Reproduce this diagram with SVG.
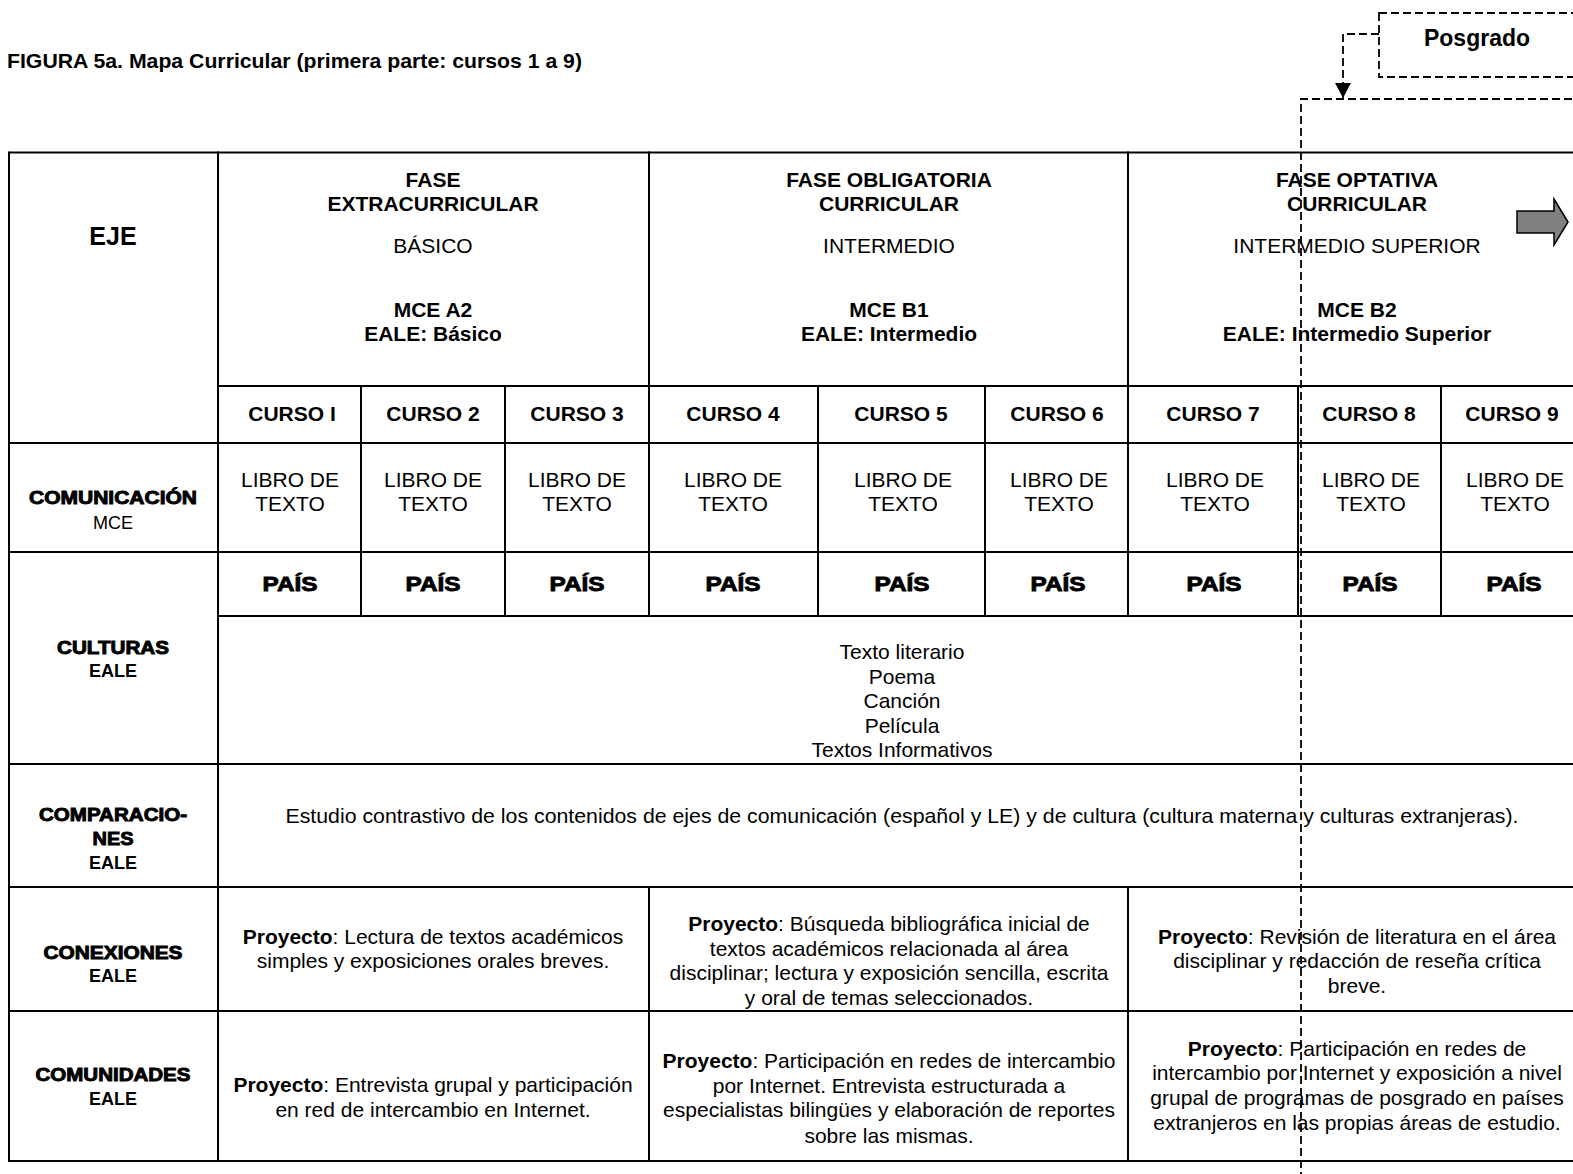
<svg xmlns="http://www.w3.org/2000/svg" width="1573" height="1174" viewBox="0 0 1573 1174">
<style>
text{font-family:"Liberation Sans",Arial,sans-serif;fill:#000;text-anchor:middle}
.t{font-size:21px}
.b{font-size:21px;font-weight:bold}
.blk{font-weight:bold;stroke:#000;stroke-width:0.9;paint-order:stroke}
.s{font-size:18px}
.sb{font-size:18px;font-weight:bold}
.grid line{stroke:#000;stroke-width:2}
.dash{fill:none;stroke:#000;stroke-width:1.8;stroke-dasharray:8 4}
</style>
<defs>
<marker id="ah" markerWidth="16" markerHeight="16" refX="15" refY="8" orient="auto" markerUnits="userSpaceOnUse" viewBox="0 0 16 16">
<polygon points="0,0 15,8 0,16" fill="#000"/>
</marker>
</defs>
<rect width="1573" height="1174" fill="#fff"/>
<text x="7" y="68" style="font-size:21px;font-weight:bold;text-anchor:start" textLength="575" lengthAdjust="spacingAndGlyphs">FIGURA 5a. Mapa Curricular (primera parte: cursos 1 a 9)</text>

<g class="grid" id="grid">
<line x1="9" y1="152.5" x2="1580" y2="152.5"/>
<line x1="218" y1="386" x2="1580" y2="386"/>
<line x1="9" y1="443" x2="1580" y2="443"/>
<line x1="9" y1="552" x2="1580" y2="552"/>
<line x1="218" y1="616" x2="1580" y2="616"/>
<line x1="9" y1="764" x2="1580" y2="764"/>
<line x1="9" y1="887" x2="1580" y2="887"/>
<line x1="9" y1="1011" x2="1580" y2="1011"/>
<line x1="9" y1="1161" x2="1580" y2="1161"/>
<line x1="9" y1="151.5" x2="9" y2="1162"/>
<line x1="218" y1="151.5" x2="218" y2="1162"/>
<line x1="649" y1="151.5" x2="649" y2="617"/>
<line x1="649" y1="886" x2="649" y2="1162"/>
<line x1="1128" y1="151.5" x2="1128" y2="617"/>
<line x1="1128" y1="886" x2="1128" y2="1162"/>
<line x1="361" y1="386" x2="361" y2="617"/>
<line x1="505" y1="386" x2="505" y2="617"/>
<line x1="818" y1="386" x2="818" y2="617"/>
<line x1="985" y1="386" x2="985" y2="617"/>
<line x1="1298" y1="386" x2="1298" y2="617"/>
<line x1="1441" y1="386" x2="1441" y2="617"/>
</g>

<g id="eje"><text x="113" y="245" style="font-size:25px;font-weight:bold">EJE</text></g>

<g id="fase1">
<text class="b" x="433" y="187">FASE</text>
<text class="b" x="433" y="211">EXTRACURRICULAR</text>
<text class="t" x="433" y="253">BÁSICO</text>
<text class="b" x="433" y="317">MCE A2</text>
<text class="b" x="433" y="341">EALE: Básico</text>
</g>
<g id="fase2">
<text class="b" x="889" y="187">FASE OBLIGATORIA</text>
<text class="b" x="889" y="211">CURRICULAR</text>
<text class="t" x="889" y="253">INTERMEDIO</text>
<text class="b" x="889" y="317">MCE B1</text>
<text class="b" x="889" y="341">EALE: Intermedio</text>
</g>
<g id="fase3">
<text class="b" x="1357" y="187">FASE OPTATIVA</text>
<text class="b" x="1357" y="211">CURRICULAR</text>
<text class="t" x="1357" y="253">INTERMEDIO SUPERIOR</text>
<text class="b" x="1357" y="317">MCE B2</text>
<text class="b" x="1357" y="341">EALE: Intermedio Superior</text>
</g>

<g id="cursos">
<text class="b" x="292" y="421">CURSO I</text>
<text class="b" x="433" y="421">CURSO 2</text>
<text class="b" x="577" y="421">CURSO 3</text>
<text class="b" x="733" y="421">CURSO 4</text>
<text class="b" x="901" y="421">CURSO 5</text>
<text class="b" x="1057" y="421">CURSO 6</text>
<text class="b" x="1213" y="421">CURSO 7</text>
<text class="b" x="1369" y="421">CURSO 8</text>
<text class="b" x="1512" y="421">CURSO 9</text>
</g>

<g id="libros">
<text class="t" x="290" y="487">LIBRO DE</text><text class="t" x="290" y="511">TEXTO</text>
<text class="t" x="433" y="487">LIBRO DE</text><text class="t" x="433" y="511">TEXTO</text>
<text class="t" x="577" y="487">LIBRO DE</text><text class="t" x="577" y="511">TEXTO</text>
<text class="t" x="733" y="487">LIBRO DE</text><text class="t" x="733" y="511">TEXTO</text>
<text class="t" x="903" y="487">LIBRO DE</text><text class="t" x="903" y="511">TEXTO</text>
<text class="t" x="1059" y="487">LIBRO DE</text><text class="t" x="1059" y="511">TEXTO</text>
<text class="t" x="1215" y="487">LIBRO DE</text><text class="t" x="1215" y="511">TEXTO</text>
<text class="t" x="1371" y="487">LIBRO DE</text><text class="t" x="1371" y="511">TEXTO</text>
<text class="t" x="1515" y="487">LIBRO DE</text><text class="t" x="1515" y="511">TEXTO</text>
</g>

<g id="paises">
<text class="blk" style="font-size:21px" x="290" y="591" textLength="55" lengthAdjust="spacingAndGlyphs">PAÍS</text>
<text class="blk" style="font-size:21px" x="433" y="591" textLength="55" lengthAdjust="spacingAndGlyphs">PAÍS</text>
<text class="blk" style="font-size:21px" x="577" y="591" textLength="55" lengthAdjust="spacingAndGlyphs">PAÍS</text>
<text class="blk" style="font-size:21px" x="733" y="591" textLength="55" lengthAdjust="spacingAndGlyphs">PAÍS</text>
<text class="blk" style="font-size:21px" x="902" y="591" textLength="55" lengthAdjust="spacingAndGlyphs">PAÍS</text>
<text class="blk" style="font-size:21px" x="1058" y="591" textLength="55" lengthAdjust="spacingAndGlyphs">PAÍS</text>
<text class="blk" style="font-size:21px" x="1214" y="591" textLength="55" lengthAdjust="spacingAndGlyphs">PAÍS</text>
<text class="blk" style="font-size:21px" x="1370" y="591" textLength="55" lengthAdjust="spacingAndGlyphs">PAÍS</text>
<text class="blk" style="font-size:21px" x="1514" y="591" textLength="55" lengthAdjust="spacingAndGlyphs">PAÍS</text>
</g>

<g id="lbl-comunicacion">
<text class="blk" style="font-size:18px" x="113" y="504" textLength="168" lengthAdjust="spacingAndGlyphs">COMUNICACIÓN</text>
<text class="s" x="113" y="529">MCE</text>
</g>
<g id="lbl-culturas">
<text class="blk" style="font-size:18px" x="113" y="654" textLength="112" lengthAdjust="spacingAndGlyphs">CULTURAS</text>
<text class="sb" x="113" y="677">EALE</text>
</g>
<g id="lbl-comparaciones">
<text class="blk" style="font-size:18px" x="113" y="821" textLength="148" lengthAdjust="spacingAndGlyphs">COMPARACIO-</text>
<text class="blk" style="font-size:18px" x="113" y="845" textLength="41" lengthAdjust="spacingAndGlyphs">NES</text>
<text class="sb" x="113" y="869">EALE</text>
</g>
<g id="lbl-conexiones">
<text class="blk" style="font-size:18px" x="113" y="959" textLength="139" lengthAdjust="spacingAndGlyphs">CONEXIONES</text>
<text class="sb" x="113" y="982">EALE</text>
</g>
<g id="lbl-comunidades">
<text class="blk" style="font-size:18px" x="113" y="1081" textLength="155" lengthAdjust="spacingAndGlyphs">COMUNIDADES</text>
<text class="sb" x="113" y="1105">EALE</text>
</g>

<g id="culturas-texto">
<text class="t" x="902" y="659">Texto literario</text>
<text class="t" x="902" y="684">Poema</text>
<text class="t" x="902" y="708">Canción</text>
<text class="t" x="902" y="733">Película</text>
<text class="t" x="902" y="757">Textos Informativos</text>
</g>

<g id="comparaciones-texto">
<text class="t" x="902" y="823" textLength="1233" lengthAdjust="spacingAndGlyphs">Estudio contrastivo de los contenidos de ejes de comunicación (español y LE) y de cultura (cultura materna y culturas extranjeras).</text>
</g>

<g id="conexiones1">
<text class="t" x="433" y="944"><tspan font-weight="bold">Proyecto</tspan>: Lectura de textos académicos</text>
<text class="t" x="433" y="968">simples y exposiciones orales breves.</text>
</g>
<g id="conexiones2">
<text class="t" x="889" y="931"><tspan font-weight="bold">Proyecto</tspan>: Búsqueda bibliográfica inicial de</text>
<text class="t" x="889" y="956">textos académicos relacionada al área</text>
<text class="t" x="889" y="980">disciplinar; lectura y exposición sencilla, escrita</text>
<text class="t" x="889" y="1005">y oral de temas seleccionados.</text>
</g>
<g id="conexiones3">
<text class="t" x="1357" y="944"><tspan font-weight="bold">Proyecto</tspan>: Revisión de literatura en el área</text>
<text class="t" x="1357" y="968">disciplinar y redacción de reseña crítica</text>
<text class="t" x="1357" y="993">breve.</text>
</g>

<g id="comunidades1">
<text class="t" x="433" y="1092"><tspan font-weight="bold">Proyecto</tspan>: Entrevista grupal y participación</text>
<text class="t" x="433" y="1117">en red de intercambio en Internet.</text>
</g>
<g id="comunidades2">
<text class="t" x="889" y="1068"><tspan font-weight="bold">Proyecto</tspan>: Participación en redes de intercambio</text>
<text class="t" x="889" y="1093">por Internet. Entrevista estructurada a</text>
<text class="t" x="889" y="1117">especialistas bilingües y elaboración de reportes</text>
<text class="t" x="889" y="1143">sobre las mismas.</text>
</g>
<g id="comunidades3">
<text class="t" x="1357" y="1056"><tspan font-weight="bold">Proyecto</tspan>: Participación en redes de</text>
<text class="t" x="1357" y="1080">intercambio por Internet y exposición a nivel</text>
<text class="t" x="1357" y="1105">grupal de programas de posgrado en países</text>
<text class="t" x="1357" y="1130">extranjeros en las propias áreas de estudio.</text>
</g>

<g id="posgrado">
<rect class="dash" x="1379" y="13" width="240" height="64"/>
<text x="1477" y="46" style="font-size:23px;font-weight:bold">Posgrado</text>
</g>
<g id="posgrado-frame">
<path class="dash" d="M1301,1180 V99 H1600"/>
</g>
<g id="next-arrow">
<polygon points="1517,211 1554,211 1554,199 1568,222 1554,245 1554,233 1517,233" fill="#808080" stroke="#000" stroke-width="1.5"/>
</g>

<g id="connectors">
<path class="dash" d="M1379,34 H1343 V98" marker-end="url(#ah)"/>
</g>
</svg>
